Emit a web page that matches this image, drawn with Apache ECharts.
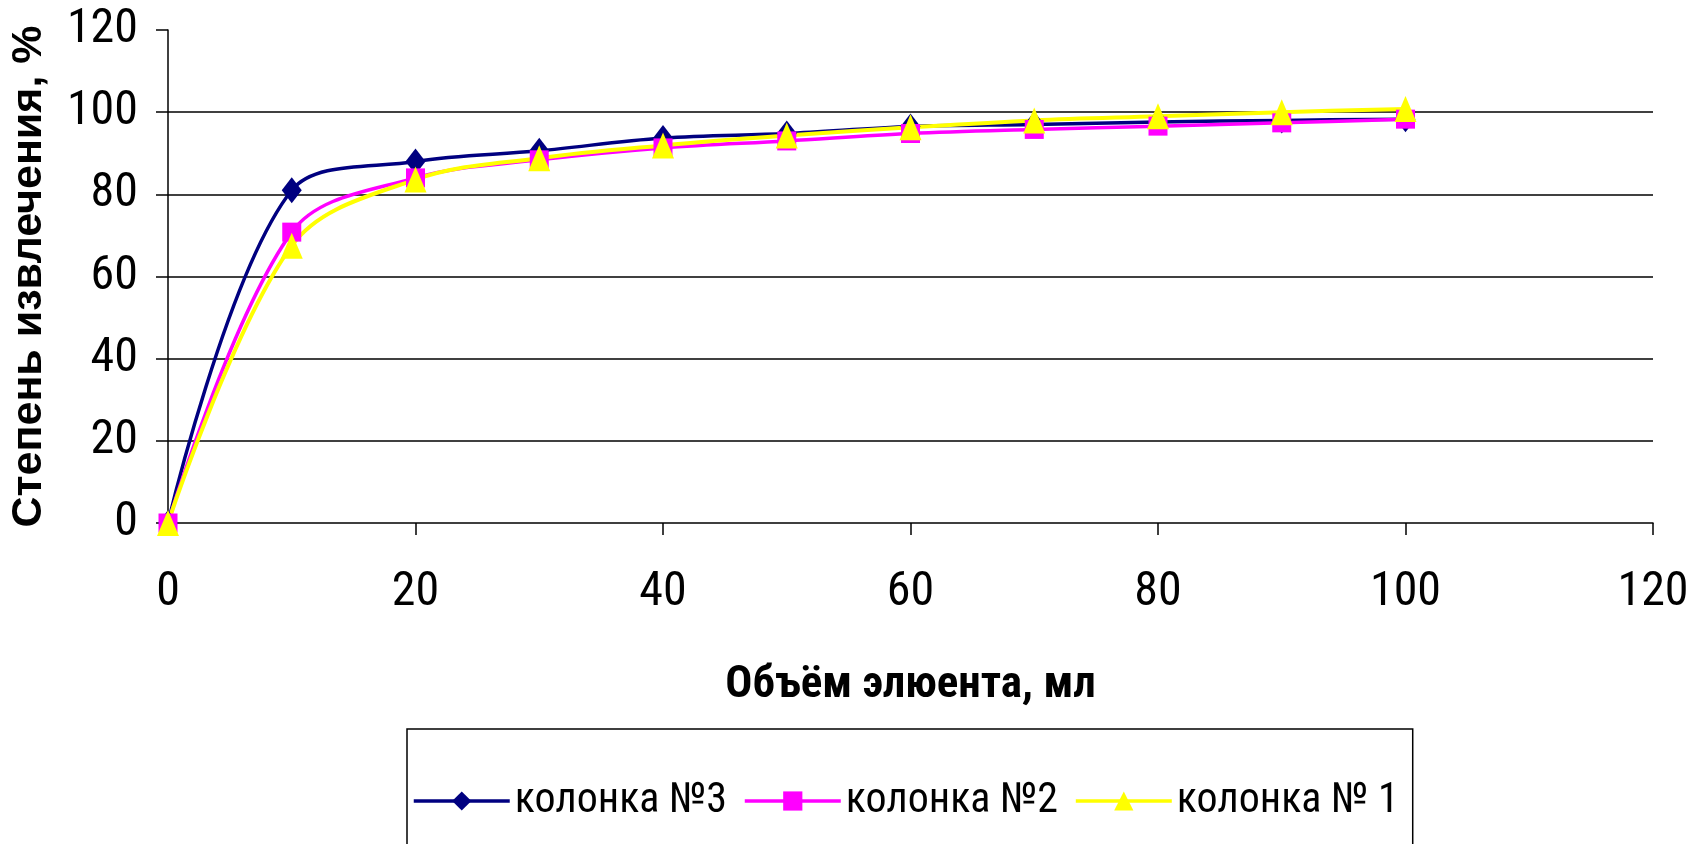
<!DOCTYPE html>
<html>
<head>
<meta charset="utf-8">
<script src="https://cdn.jsdelivr.net/npm/echarts@6/dist/echarts.min.js"></script>
<style>html,body{margin:0;padding:0;background:#fff;}#c{width:1692px;height:844px;}</style>
</head>
<body>
<div id="c"></div>
<script>
const volumes = [0, 10, 20, 30, 40, 50, 60, 70, 80, 90, 100];
const col3 = [0, 81, 88, 90.6, 93.7, 94.8, 96.5, 97, 97.6, 98, 98.3];
const col2 = [0, 70.8, 84, 88.4, 91.3, 93, 94.8, 95.8, 96.6, 97.4, 98.3];
const col1 = [0, 67.5, 83.6, 88.8, 91.9, 94.3, 96.3, 98, 99, 100, 100.8];
const seriesNames = ['колонка №3', 'колонка №2', 'колонка № 1'];
const xTitle = 'Объём элюента, мл';
const yTitle = 'Степень извлечения, %';

const narrow = '"Roboto Condensed", "Liberation Sans Narrow", sans-serif';
const pairs = arr => volumes.map((v, i) => [v, arr[i]]);

const chart = echarts.init(document.getElementById('c'), null, {renderer: 'canvas'});
chart.setOption({
  animation: false,
  backgroundColor: '#fff',
  grid: {left: 165, right: 39, top: 30, bottom: 321, containLabel: false},
  xAxis: {
    type: 'value', min: 0, max: 120, interval: 20,
    name: xTitle, nameLocation: 'middle', nameGap: 140,
    nameTextStyle: {fontFamily: narrow, fontWeight: 'bold', fontSize: 45, color: '#000'},
    axisLine: {show: true, lineStyle: {color: '#000', width: 1.5}},
    axisTick: {show: true, length: 12, inside: false, lineStyle: {color: '#000', width: 1.5}},
    axisLabel: {fontFamily: narrow, fontSize: 48, color: '#000', margin: 46},
    splitLine: {show: false}
  },
  yAxis: {
    type: 'value', min: 0, max: 120, interval: 20,
    name: yTitle, nameLocation: 'middle', nameGap: 117, nameRotate: 90,
    nameTextStyle: {fontFamily: '"Liberation Sans", Arial, sans-serif', fontWeight: 'bold', fontSize: 43, color: '#000'},
    axisLine: {show: true, lineStyle: {color: '#000', width: 1.5}},
    axisTick: {show: true, length: 12, inside: false, lineStyle: {color: '#000', width: 1.5}},
    axisLabel: {fontFamily: narrow, fontSize: 48, color: '#000', margin: 30},
    splitLine: {show: true, showMinLine: false, showMaxLine: false, lineStyle: {color: '#000', width: 1.5}}
  },
  legend: {
    left: 407, top: 729,
    padding: [51, 14, 51, 5],
    borderColor: '#000', borderWidth: 1.5,
    itemWidth: 96, itemHeight: 24, itemGap: 16,
    lineStyle: {width: 3.5},
    textStyle: {fontFamily: narrow, fontSize: 42, color: '#000'},
    data: seriesNames
  },
  series: [
    {name: seriesNames[0], type: 'line', data: pairs(col3), smooth: 0.35,
     symbol: 'diamond', symbolSize: [20, 26],
     lineStyle: {color: '#000080', width: 3.5}, itemStyle: {color: '#000080'}},
    {name: seriesNames[1], type: 'line', data: pairs(col2), smooth: 0.35,
     symbol: 'rect', symbolSize: 19,
     lineStyle: {color: '#FF00FF', width: 3.5}, itemStyle: {color: '#FF00FF'}},
    {name: seriesNames[2], type: 'line', data: pairs(col1), smooth: 0.35,
     symbol: 'triangle', symbolSize: [22, 26],
     lineStyle: {color: '#FFFF00', width: 4}, itemStyle: {color: '#FFFF00'}}
  ]
});
</script>
</body>
</html>
